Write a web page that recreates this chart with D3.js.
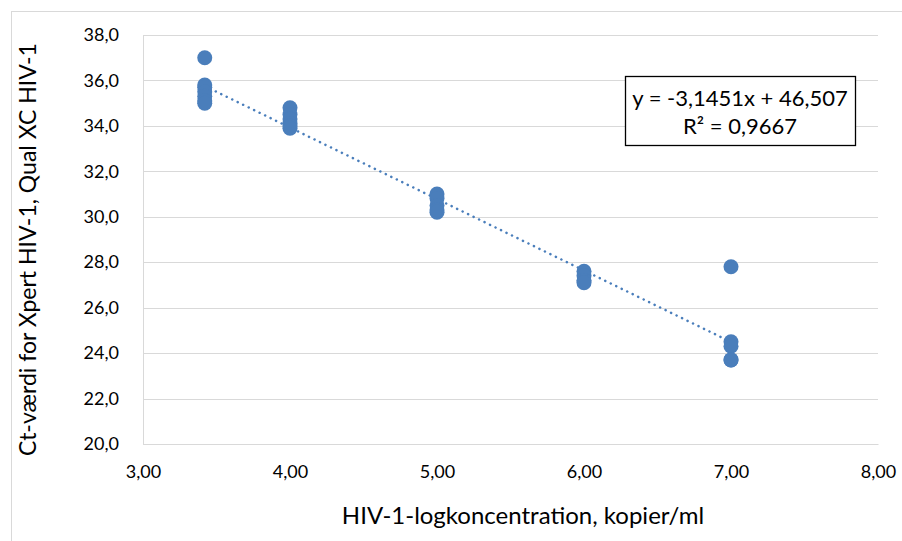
<!DOCTYPE html>
<html>
<head>
<meta charset="utf-8">
<script src="https://cdn.jsdelivr.net/npm/d3@7"></script>
<style>
  body { margin: 0; background: #fff; }
  text { font-family: Lato, "Open Sans", sans-serif; fill: #000; }
</style>
</head>
<body>
<div id="chart"></div>
<script>
// data
var xValues = [3.42, 3.42, 3.42, 3.42, 3.42, 3.42, 3.42,
               4, 4, 4, 4, 4, 4,
               5, 5, 5, 5, 5,
               6, 6, 6, 6,
               7, 7, 7, 7, 7];
var ctValues = [37.0, 35.8, 35.7, 35.5, 35.3, 35.1, 35.0,
                34.8, 34.5, 34.3, 34.1, 34.0, 33.9,
                31.0, 30.8, 30.5, 30.3, 30.2,
                27.6, 27.4, 27.2, 27.1,
                27.8, 24.5, 24.3, 23.7, 23.7];
var xTicks = [3, 4, 5, 6, 7, 8];
var yTicks = [20, 22, 24, 26, 28, 30, 32, 34, 36, 38];
var slope = -3.1451, intercept = 46.507, r2 = "0,9667";

var W = 902, H = 541;
var margin = { top: 35, right: 24, bottom: 97, left: 143 },
    width = W - margin.left - margin.right,
    height = H - margin.top - margin.bottom;

var svg = d3.select("#chart")
    .append("svg")
    .attr("width", W)
    .attr("height", H);

// chart area border
svg.append("rect")
    .attr("x", 11.5).attr("y", 11.5)
    .attr("width", W + 20).attr("height", H + 20)
    .attr("fill", "none")
    .attr("stroke", "#d9d9d9");

var g = svg.append("g")
    .attr("transform", "translate(" + margin.left + "," + margin.top + ")");

var x = d3.scaleLinear().domain([3, 8]).range([0, width]);
var y = d3.scaleLinear().domain([20, 38]).range([height, 0]);

var fmt = function (d, n) { return d.toFixed(n).replace(".", ","); };

// gridlines
g.append("g")
    .selectAll("line")
    .data(yTicks)
    .enter()
    .append("line")
    .attr("x1", 0).attr("x2", width)
    .attr("y1", function (d) { return Math.round(y(d)) + 0.5; })
    .attr("y2", function (d) { return Math.round(y(d)) + 0.5; })
    .attr("stroke", "#d9d9d9");

// Y axis
var yAxis = g.append("g")
    .call(d3.axisLeft(y).tickValues(yTicks).tickSize(0).tickPadding(24)
        .tickFormat(function (d) { return fmt(d, 1); }));
yAxis.select(".domain").attr("stroke", "#d9d9d9");
yAxis.selectAll("text").attr("font-size", 18).style("font-family", "Lato, sans-serif");

// X axis
var xAxis = g.append("g")
    .attr("transform", "translate(0," + height + ")")
    .call(d3.axisBottom(x).tickValues(xTicks).tickSize(0).tickPadding(21)
        .tickFormat(function (d) { return fmt(d, 2); }));
xAxis.select(".domain").attr("stroke", "#d9d9d9");
xAxis.selectAll("text").attr("font-size", 18).style("font-family", "Lato, sans-serif");

// trendline
var x0 = d3.min(xValues), x1 = d3.max(xValues);
g.append("line")
    .attr("x1", x(x0)).attr("y1", y(slope * x0 + intercept))
    .attr("x2", x(x1)).attr("y2", y(slope * x1 + intercept))
    .attr("stroke", "#4a7ebb")
    .attr("stroke-width", 2.5)
    .attr("stroke-dasharray", "0.1 6")
    .attr("stroke-linecap", "round");

// points
g.append("g")
    .selectAll("circle")
    .data(xValues)
    .enter()
    .append("circle")
    .attr("cx", function (d) { return x(d); })
    .attr("cy", function (d, i) { return y(ctValues[i]); })
    .attr("r", 7.5)
    .attr("fill", "#4a7ebb");

// equation box
var box = svg.append("g").attr("transform", "translate(625,76)");
box.append("rect")
    .attr("x", 0.5).attr("y", 0.5)
    .attr("width", 230).attr("height", 69)
    .attr("fill", "#fff")
    .attr("stroke", "#000")
    .attr("stroke-width", 1.3);
box.append("text")
    .attr("x", 115).attr("y", 30)
    .attr("text-anchor", "middle")
    .attr("font-size", 22)
    .text("y = " + fmt(slope, 4) + "x + " + fmt(intercept, 3));
box.append("text")
    .attr("x", 115).attr("y", 58)
    .attr("text-anchor", "middle")
    .attr("font-size", 22)
    .text("R² = " + r2);

// axis titles
svg.append("text")
    .attr("text-anchor", "middle")
    .attr("transform", "translate(36," + (margin.top + height / 2 + 10) + ") rotate(-90)")
    .attr("font-size", 23)
    .text("Ct-værdi for Xpert HIV-1, Qual XC HIV-1");

svg.append("text")
    .attr("text-anchor", "middle")
    .attr("x", 523)
    .attr("y", 524)
    .attr("font-size", 24)
    .text("HIV-1-logkoncentration, kopier/ml");
</script>
</body>
</html>
